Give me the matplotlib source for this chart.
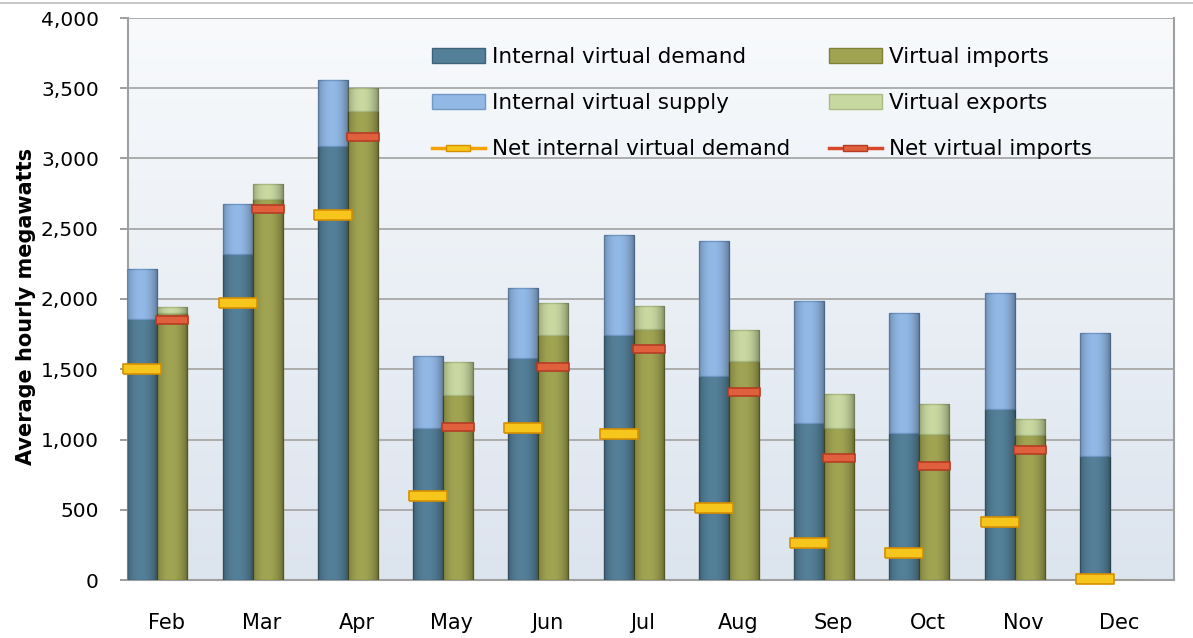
import matplotlib
matplotlib.use("Agg")
import matplotlib.pyplot as plt
import numpy as np
from matplotlib.path import Path
from matplotlib.lines import Line2D
from matplotlib.patches import Patch
from matplotlib.ticker import FuncFormatter
from matplotlib.colors import LinearSegmentedColormap

months = ["Feb", "Mar", "Apr", "May", "Jun", "Jul", "Aug", "Sep", "Oct", "Nov", "Dec"]
internal_demand = [1855, 2320, 3090, 1085, 1580, 1745, 1450, 1120, 1045, 1215, 885]
internal_supply = [355, 355, 470, 510, 495, 710, 960, 865, 855, 830, 870]
virtual_imports = [1900, 2710, 3335, 1320, 1745, 1790, 1560, 1080, 1040, 1030, 0]
virtual_exports = [45, 105, 165, 230, 225, 160, 220, 245, 215, 115, 0]
net_internal_demand = [1500, 1970, 2600, 600, 1085, 1040, 510, 260, 195, 410, 10]
net_virtual_imports = [1850, 2640, 3155, 1090, 1515, 1645, 1335, 865, 810, 925, np.nan]

plt.rcParams['font.family'] = ['DejaVu Sans']

fig = plt.figure(figsize=(11.93, 6.38), dpi=100)
ax = fig.add_axes([128/1193, 1-580/638, (1174-128)/1193, (580-18)/638])

# background gradient
grad = np.linspace(0, 1, 256).reshape(-1, 1)
cmap = LinearSegmentedColormap.from_list("bg", ["#DCE4EE", "#F8FAFC"])
ax.imshow(grad, extent=[0, 1, 0, 1], transform=ax.transAxes, cmap=cmap,
          origin="lower", aspect="auto", zorder=0)

x = np.arange(len(months))
w = 0.315
xl = x - 0.25
xr = x + 0.065

c_dem, c_sup, c_imp, c_exp = "#547F98", "#92B8E6", "#A0A452", "#C8D8A1"
e_dem, e_sup, e_imp, e_exp = "#3E6278", "#7198C6", "#7D8135", "#A9BA82"

bars = []
bars += list(ax.bar(xl, internal_demand, w, color=c_dem, edgecolor=e_dem, linewidth=1, zorder=3))
bars += list(ax.bar(xl, internal_supply, w, bottom=internal_demand, color=c_sup, edgecolor=e_sup, linewidth=1, zorder=3))
bars += list(ax.bar(xr, virtual_imports, w, color=c_imp, edgecolor=e_imp, linewidth=1, zorder=3))
bars += list(ax.bar(xr, virtual_exports, w, bottom=virtual_imports, color=c_exp, edgecolor=e_exp, linewidth=1, zorder=3))

# subtle cylindrical shading on each bar
t = np.linspace(0, 1, 64)
shade = np.zeros((1, 64, 4))
shade[..., 3] = 0.28 * np.abs(2 * t - 0.9) ** 2.2
for b in bars:
    if b.get_height() <= 0:
        continue
    bx, by = b.get_x(), b.get_y()
    im = ax.imshow(shade, extent=[bx, bx + b.get_width(), by, by + b.get_height()],
                   aspect="auto", zorder=3.5, interpolation="bilinear")
    im.set_clip_path(b)
ax.set_aspect("auto")

rect_y = Path([(-0.5, -0.12), (0.5, -0.12), (0.5, 0.12), (-0.5, 0.12), (-0.5, -0.12)])
rect_r = Path([(-0.5, -0.14), (0.5, -0.14), (0.5, 0.14), (-0.5, 0.14), (-0.5, -0.14)])
ax.plot(xl, net_internal_demand, linestyle="none", marker=rect_y, markersize=27.5,
        markerfacecolor="#F7C61C", markeredgecolor="#D68F00", markeredgewidth=1.2,
        zorder=5, clip_on=False)
ax.plot(xr, net_virtual_imports, linestyle="none", marker=rect_r, markersize=22.5,
        markerfacecolor="#E0603E", markeredgecolor="#B43C24", markeredgewidth=1.2,
        zorder=5, clip_on=False)

ax.set_ylim(0, 4000)
ax.set_xlim(-0.40, 10.58)
ax.set_yticks(np.arange(0, 4001, 500))
ax.yaxis.set_major_formatter(FuncFormatter(lambda v, p: f"{int(v):,}"))
ax.set_xticks(x)
ax.set_xticklabels(months)
ax.tick_params(axis="x", length=0, pad=24, labelsize=15)
ax.tick_params(axis="y", length=6, width=1.2, color="#8C8C8C", pad=15, labelsize=14.5)
ax.grid(axis="y", color="#ADADAD", linewidth=1.4, zorder=1)
ax.set_axisbelow(True)
for s in ["left", "bottom", "right"]:
    ax.spines[s].set_color("#A0A0A0")
    ax.spines[s].set_linewidth(1.5)
ax.spines["top"].set_visible(False)

ax.set_ylabel("Average hourly megawatts", fontsize=15, fontweight="bold", labelpad=8)
ax.yaxis.set_label_coords(-0.088, 0.487)

h1 = [Patch(facecolor=c_dem, edgecolor=e_dem), Patch(facecolor=c_sup, edgecolor=e_sup),
      Line2D([0], [0], color="#F5A200", linewidth=2.5, marker=rect_y, markersize=17,
             markerfacecolor="#F7C61C", markeredgecolor="#D68F00")]
l1 = ["Internal virtual demand", "Internal virtual supply", "Net internal virtual demand"]
h2 = [Patch(facecolor=c_imp, edgecolor=e_imp), Patch(facecolor=c_exp, edgecolor=e_exp),
      Line2D([0], [0], color="#D9472B", linewidth=2.5, marker=rect_r, markersize=17,
             markerfacecolor="#E0603E", markeredgecolor="#B43C24")]
l2 = ["Virtual imports", "Virtual exports", "Net virtual imports"]

kw = dict(frameon=False, fontsize=15.5, handlelength=2.45, handleheight=0.65,
          handletextpad=0.36, labelspacing=1.21, borderpad=0, borderaxespad=0, loc="upper left")
leg1 = fig.legend(h1, l1, bbox_to_anchor=(432/1193, 1-47/638), **kw)
leg2 = fig.legend(h2, l2, bbox_to_anchor=(829/1193, 1-47/638), **kw)

fig.add_artist(Line2D([0, 1], [1-3/638, 1-3/638], color="#C8C8C8", linewidth=1.5,
                      transform=fig.transFigure))

fig.savefig("out.png", dpi=100)
